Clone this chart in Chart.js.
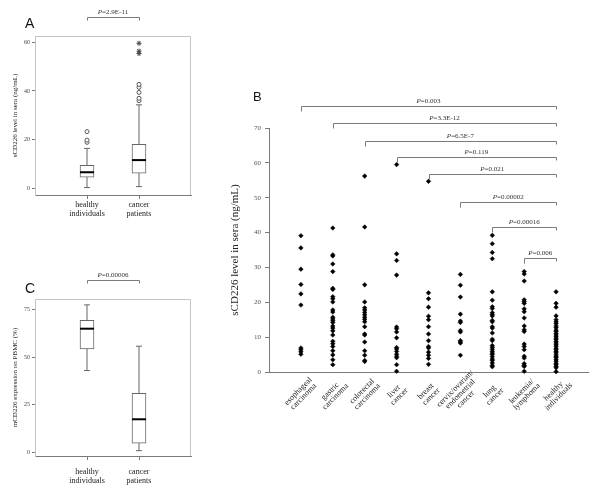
<!DOCTYPE html>
<html><head><meta charset="utf-8">
<script src="https://cdn.jsdelivr.net/npm/chart.js@4.4.0/dist/chart.umd.min.js"></script>
<style>
html,body{margin:0;padding:0;background:#fff;width:600px;height:496px;overflow:hidden;position:relative}
canvas{position:absolute;display:block}
</style></head><body>
<canvas id="cA" width="200" height="250" style="left:0;top:0"></canvas>
<canvas id="cC" width="200" height="246" style="left:0;top:250px"></canvas>
<canvas id="cB" width="400" height="416" style="left:200px;top:80px"></canvas>
<script>
// ---------- Panel A data (sCD226 in sera, box plot) ----------
const boxLabelsA = [['healthy','individuals'],['cancer','patients']];
const whiskerLowA  = [0.3, 0.7];
const q1A          = [4.6, 6.2];
const medianA      = [6.6, 11.6];
const q3A          = [9.4, 18.1];
const whiskerHighA = [16.4, 34.3];
const outliersHealthyA = [18.9, 19.8, 23.3];
const outliersCancerA  = [36.0, 37.0, 39.4, 41.5, 42.7];
const extremesCancerA  = [55.4, 56.4, 59.6];
const yTicksA = [0, 20, 40, 60];
const pTextA = 'P=2.9E-11';

// ---------- Panel C data (mCD226 on PBMC, box plot) ----------
const boxLabelsC = [['healthy','individuals'],['cancer','patients']];
const whiskerLowC  = [43.0, 0.9];
const q1C          = [54.4, 4.9];
const medianC      = [65.0, 17.4];
const q3C          = [69.4, 31.0];
const whiskerHighC = [77.5, 55.8];
const yTicksC = [0, 25, 50, 75];
const pTextC = 'P=0.00006';

// ---------- Panel B data (sCD226 by group, dot plot) ----------
const categoriesB = [['esophageal','carcinoma'],['gastric','carcinoma'],['colorectal','carcinoma'],['liver','cancer'],['breast','cancer'],['cervix/ovarian/','endometrial','cancer'],['lung','cancer'],['leukemia/','lymphoma'],['healthy','individuals']];
const esophageal = [39.1, 35.6, 29.5, 25.1, 22.4, 19.2, 6.9, 6.4, 5.8, 5.1];
const gastric = [41.3, 33.6, 33.3, 31.0, 28.8, 24.0, 23.7, 21.6, 21.0, 20.1, 17.8, 17.2, 15.7, 15.2, 14.7, 14.2, 13.2, 12.6, 11.8, 10.6, 8.8, 8.1, 7.3, 6.1, 4.9, 3.5, 2.1];
const colorectal = [56.2, 41.6, 25.0, 20.1, 18.4, 17.8, 17.1, 16.4, 15.7, 15.1, 14.4, 13.0, 10.9, 10.6, 8.6, 6.1, 4.8, 3.3, 3.0];
const liver = [59.5, 33.9, 32.0, 27.8, 12.9, 12.4, 11.5, 9.8, 7.0, 6.6, 5.9, 5.1, 4.5, 4.1, 2.1, 0.2];
const breast = [54.7, 22.7, 21.0, 18.6, 16.0, 15.0, 13.0, 10.9, 9.0, 7.3, 6.9, 5.7, 4.8, 3.9, 2.2];
const cervix = [28.0, 24.9, 21.5, 16.6, 14.6, 14.2, 11.9, 11.5, 9.0, 8.6, 8.3, 4.8];
const lung = [39.2, 36.8, 34.3, 32.5, 23.0, 20.6, 18.7, 18.2, 17.0, 16.5, 16.1, 14.8, 14.4, 13.0, 12.6, 11.2, 9.4, 9.0, 7.6, 7.1, 6.5, 5.9, 5.4, 5.0, 4.4, 3.7, 3.3, 2.6, 1.9, 1.5];
const leukemia = [28.8, 28.1, 26.1, 20.7, 20.2, 19.7, 18.1, 17.3, 15.5, 13.2, 12.1, 11.6, 8.0, 7.3, 6.4, 4.5, 4.0, 2.4, 1.9, 1.6, 0.2];
const healthy = [23.0, 19.7, 18.6, 16.1, 15.0, 14.4, 13.9, 13.2, 12.7, 12.0, 11.6, 11.0, 10.6, 10.1, 9.7, 9.3, 8.7, 8.3, 7.8, 7.4, 6.8, 6.4, 5.9, 5.5, 4.9, 4.4, 4.1, 3.5, 3.1, 2.5, 2.1, 1.6, 1.2, 0.1];
const yTicksB = [0, 10, 20, 30, 40, 50, 60, 70];
const pTextsB = ['P=0.003','P=3.3E-12','P=6.5E-7','P=0.119','P=0.021','P=0.00002','P=0.00016','P=0.006'];
const pFromB  = [1, 2, 3, 4, 5, 6, 7, 8];
const pToB    = 9;
const pLevelB = [76.4, 71.4, 66.4, 61.7, 56.9, 48.9, 41.6, 32.7];

const SERIF = '"Liberation Serif", "Times New Roman", serif';
const SANS = '"Liberation Sans", Arial, sans-serif';
const AXIS = '#7a7a7a';

function drawPText(ctx, text, cx, y, size) {
  const rest = text.slice(1);
  ctx.font = 'italic ' + size + 'px ' + SERIF;
  const wP = ctx.measureText('P').width;
  ctx.font = size + 'px ' + SERIF;
  const wR = ctx.measureText(rest).width;
  const x0 = cx - (wP + wR) / 2;
  ctx.fillStyle = '#333';
  ctx.textAlign = 'left'; ctx.textBaseline = 'alphabetic';
  ctx.font = 'italic ' + size + 'px ' + SERIF; ctx.fillText('P', x0, y);
  ctx.font = size + 'px ' + SERIF; ctx.fillText(rest, x0 + wP, y);
}
function drawBracket(ctx, x1, x2, y, legL, legR) {
  ctx.save();
  ctx.strokeStyle = AXIS; ctx.lineWidth = 1;
  ctx.beginPath();
  const xa = Math.round(x1) + 0.5, xb = Math.round(x2) + 0.5, yy = Math.round(y) + 0.5;
  ctx.moveTo(xa, yy + legL); ctx.lineTo(xa, yy); ctx.lineTo(xb, yy); ctx.lineTo(xb, yy + legR);
  ctx.stroke();
  ctx.restore();
}

function boxChart(id, labels, lo, q1, med, q3, hi, yMin, yMax, yTicks, yTitle, pText, pLevel, letter, letterPos, xPad, xHeight, topPad, extraSets) {
  const n = labels.length;
  const datasets = [];
  for (let i = 0; i < n; i++) {
    datasets.push({type: 'line', data: [{x: i + 1, y: lo[i]}, {x: i + 1, y: hi[i]}],
      borderColor: '#666', borderWidth: 1, pointRadius: 0, order: 5});
  }
  datasets.push({type: 'scatter', data: labels.map((l, i) => ({x: i + 1, y: lo[i]})).concat(labels.map((l, i) => ({x: i + 1, y: hi[i]}))),
    pointStyle: 'line', pointRadius: 3, borderColor: '#666', borderWidth: 1, order: 4});
  datasets.push({type: 'bar', data: labels.map((l, i) => ({x: i + 1, y: [q1[i], q3[i]]})),
    backgroundColor: '#fff', borderColor: '#666', borderWidth: 1, borderSkipped: false, barThickness: 14, order: 3});
  datasets.push({type: 'scatter', data: labels.map((l, i) => ({x: i + 1, y: med[i]})),
    pointStyle: 'line', pointRadius: 7, borderColor: '#000', borderWidth: 2, order: 2});
  (extraSets || []).forEach(s => datasets.push(s));

  const annot = {
    id: 'annot' + id,
    beforeDatasetsDraw(chart) {
      const {ctx, chartArea: a} = chart;
      ctx.save();
      ctx.strokeStyle = '#c4c4c4'; ctx.lineWidth = 1;
      ctx.beginPath();
      ctx.moveTo(Math.round(a.left) + 0.5, Math.round(a.bottom));
      ctx.lineTo(Math.round(a.left) + 0.5, Math.round(a.top) + 0.5);
      ctx.lineTo(Math.round(a.right) - 0.5, Math.round(a.top) + 0.5);
      ctx.lineTo(Math.round(a.right) - 0.5, Math.round(a.bottom));
      ctx.stroke();
      ctx.restore();
    },
    afterDraw(chart) {
      const {ctx, scales: {x, y}} = chart;
      const yb = y.getPixelForValue(pLevel);
      const x1 = x.getPixelForValue(1), x2 = x.getPixelForValue(2);
      drawBracket(ctx, x1, x2, yb, 3, 3);
      drawPText(ctx, pText, (x1 + x2) / 2, Math.round(yb) - 3, 7);
      ctx.save();
      ctx.fillStyle = '#111'; ctx.font = '14px ' + SANS; ctx.textAlign = 'left'; ctx.textBaseline = 'alphabetic';
      ctx.fillText(letter, letterPos[0], letterPos[1]);
      ctx.restore();
    }
  };

  return new Chart(document.getElementById(id), {
    data: {datasets},
    plugins: [annot],
    options: {
      responsive: false, animation: false,
      layout: {padding: {top: topPad, right: 9, left: 0, bottom: 0}},
      plugins: {legend: {display: false}, tooltip: {enabled: false}},
      scales: {
        x: {type: 'linear', min: 0, max: n + 1, bounds: 'data', offset: false,
          afterBuildTicks: s => { s.ticks = labels.map((l, i) => ({value: i + 1})); },
          ticks: {callback: v => labels[v - 1] || '', font: {family: SERIF, size: 8}, color: '#222', padding: xPad, maxRotation: 0, autoSkip: false},
          grid: {display: true, drawOnChartArea: false, offset: false, tickLength: 4, color: AXIS},
          border: {color: AXIS},
          afterFit: s => { s.height = xHeight; }},
        y: {type: 'linear', min: yMin, max: yMax, bounds: 'data',
          afterBuildTicks: s => { s.ticks = yTicks.map(v => ({value: v})); },
          ticks: {font: {family: SERIF, size: 6}, color: '#444', padding: 2},
          grid: {display: true, drawOnChartArea: false, tickLength: 3, color: AXIS},
          border: {color: '#c4c4c4'},
          title: {display: true, text: yTitle, font: {family: SERIF, size: 7}, color: '#222', padding: {top: 11, bottom: 0}},
          afterFit: s => { s.width = 35; }}
      }
    }
  });
}

boxChart('cA', boxLabelsA, whiskerLowA, q1A, medianA, q3A, whiskerHighA, -2.75, 62.6, yTicksA,
  'sCD226 level in sera (ng/mL)', pTextA, 70.4, 'A', [25, 28], 1, 55, 36, [
    {type: 'scatter', data: outliersHealthyA.map(v => ({x: 1, y: v})).concat(outliersCancerA.map(v => ({x: 2, y: v}))),
      pointStyle: 'circle', pointRadius: 2, backgroundColor: '#fff', borderColor: '#555', borderWidth: 1, order: 1, clip: false},
    {type: 'scatter', data: extremesCancerA.map(v => ({x: 2, y: v})),
      pointStyle: 'star', pointRadius: 2.5, borderColor: '#444', borderWidth: 1, order: 1, clip: false}
  ]);

boxChart('cC', boxLabelsC, whiskerLowC, q1C, medianC, q3C, whiskerHighC, -1.9, 80.6, yTicksC,
  'mCD226 expression on PBMC (%)', pTextC, 90.5, 'C', [25, 43], 7, 40, 49, []);

// ---------- Panel B ----------
const groupsB = [esophageal, gastric, colorectal, liver, breast, cervix, lung, leukemia, healthy];
const pointsB = [];
groupsB.forEach((arr, i) => arr.forEach(v => pointsB.push({x: i + 1, y: v})));

const annotB = {
  id: 'annotB',
  afterDraw(chart) {
    const {ctx, scales: {x, y}} = chart;
    pTextsB.forEach((t, i) => {
      const x1 = x.getPixelForValue(pFromB[i]), x2 = x.getPixelForValue(pToB);
      const yb = y.getPixelForValue(pLevelB[i]);
      drawBracket(ctx, x1, x2, yb, 5, 3);
      drawPText(ctx, t, (x1 + x2) / 2, Math.round(yb) - 3, 7);
    });
    // category labels, rotated 45 degrees and centred under each group
    ctx.save();
    ctx.fillStyle = '#222';
    ctx.font = '8px ' + SERIF;
    ctx.textAlign = 'center'; ctx.textBaseline = 'middle';
    const lh = 7.5;
    categoriesB.forEach((lines, i) => {
      const px = x.getPixelForValue(i + 1);
      ctx.save();
      ctx.translate(px, chart.chartArea.bottom + 22);
      ctx.rotate(-Math.PI / 4);
      lines.forEach((ln, k) => ctx.fillText(ln, 0, (k - (lines.length - 1) / 2) * lh));
      ctx.restore();
    });
    ctx.restore();
    ctx.save();
    ctx.fillStyle = '#111'; ctx.font = '13px ' + SANS; ctx.textAlign = 'left'; ctx.textBaseline = 'alphabetic';
    ctx.fillText('B', 53, 21);
    ctx.restore();
  }
};

new Chart(document.getElementById('cB'), {
  type: 'scatter',
  data: {datasets: [{data: pointsB, pointStyle: 'rectRot', pointRadius: 2.3, backgroundColor: '#000', borderColor: '#000', borderWidth: 0.5, clip: false}]},
  plugins: [annotB],
  options: {
    responsive: false, animation: false,
    layout: {padding: {top: 48, right: 12, left: 0, bottom: 0}},
    plugins: {legend: {display: false}, tooltip: {enabled: false}},
    scales: {
      x: {type: 'linear', min: 0, max: categoriesB.length + 1, bounds: 'data',
        ticks: {display: false},
        grid: {display: false},
        border: {color: AXIS},
        afterFit: s => { s.height = 124; }},
      y: {type: 'linear', min: 0, max: 70, bounds: 'data',
        afterBuildTicks: s => { s.ticks = yTicksB.map(v => ({value: v})); },
        ticks: {font: {family: SERIF, size: 7}, color: '#555', padding: 4},
        grid: {display: true, drawOnChartArea: false, tickLength: 4, color: AXIS},
        border: {color: AXIS},
        title: {display: true, text: 'sCD226 level in sera (ng/mL)', font: {family: SERIF, size: 11}, color: '#222', padding: {top: 29, bottom: 0}},
        afterFit: s => { s.width = 69; }}
    }
  }
});
</script>
</body></html>
